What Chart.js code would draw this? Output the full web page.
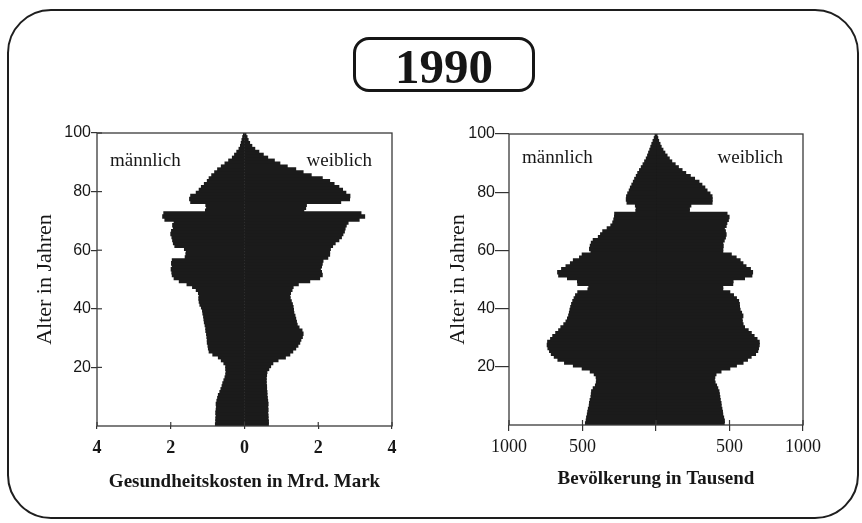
<!DOCTYPE html>
<html>
<head>
<meta charset="utf-8">
<script src="https://cdn.jsdelivr.net/npm/chart.js@4.4.1/dist/chart.umd.min.js"></script>
<style>
  html, body { margin: 0; padding: 0; background: #fff; }
  #page { position: relative; width: 862px; height: 523px; overflow: hidden; background: #fff; }
  #frame { position: absolute; left: 7px; top: 9px; width: 848px; height: 506px;
           border: 2px solid #1e1e1e; border-radius: 44px; }
  #year { position: absolute; left: 353px; top: 37px; width: 176px; height: 47px; padding-top: 2px;
          border: 3px solid #161616; border-radius: 16px; text-align: center;
          font: bold 49px/49px "Liberation Serif", "Times New Roman", serif; color: #161616; }
  canvas { position: absolute; left: 0; top: 0; }
</style>
</head>
<body>
<div id="page">
  <div id="frame"></div>
  <div id="year">1990</div>
  <canvas id="costs" width="862" height="523"></canvas>
  <canvas id="people" width="862" height="523"></canvas>
</div>
<script>
// Age classes (one bar per year of age)
const ages = Array.from({ length: 100 }, (_, i) => i);

// Health costs per age, in billion Mark (men drawn to the left)
const costMale = [
  0.78, 0.77, 0.77, 0.76, 0.77, 0.76, 0.75, 0.76, 0.74, 0.72,
  0.70, 0.66, 0.63, 0.60, 0.58, 0.55, 0.52, 0.50, 0.49, 0.50,
  0.50, 0.55, 0.62, 0.70, 0.85, 0.95, 0.97, 0.98, 1.00, 1.00,
  1.01, 1.02, 1.04, 1.04, 1.06, 1.08, 1.09, 1.10, 1.12, 1.13,
  1.16, 1.20, 1.22, 1.23, 1.22, 1.24, 1.30, 1.40, 1.55, 1.76,
  1.90, 1.95, 1.96, 1.98, 1.95, 1.97, 1.95, 1.60, 1.58, 1.57,
  1.62, 1.88, 1.92, 1.94, 1.96, 1.99, 1.97, 1.92, 1.94, 1.90,
  2.15, 2.21, 2.18, 1.05, 1.02, 1.04, 1.45, 1.48, 1.45, 1.30,
  1.22, 1.16, 1.08, 1.00, 0.95, 0.88, 0.80, 0.72, 0.62, 0.52,
  0.42, 0.32, 0.26, 0.20, 0.14, 0.10, 0.08, 0.06, 0.04, 0.02
];
const costFemale = [
  0.64, 0.64, 0.63, 0.63, 0.62, 0.63, 0.62, 0.63, 0.62, 0.61,
  0.60, 0.60, 0.59, 0.59, 0.58, 0.58, 0.58, 0.59, 0.60, 0.65,
  0.70, 0.76, 0.90, 1.10, 1.22, 1.30, 1.38, 1.44, 1.49, 1.52,
  1.56, 1.58, 1.55, 1.47, 1.42, 1.40, 1.38, 1.36, 1.33, 1.32,
  1.31, 1.29, 1.26, 1.23, 1.22, 1.24, 1.28, 1.31, 1.45, 1.76,
  2.03, 2.10, 2.08, 2.05, 2.08, 2.10, 2.12, 2.25, 2.30, 2.30,
  2.32, 2.38, 2.45, 2.55, 2.62, 2.66, 2.70, 2.72, 2.75, 2.80,
  3.10, 3.25, 3.15, 1.60, 1.65, 1.67, 2.60, 2.84, 2.85, 2.74,
  2.65, 2.55, 2.42, 2.30, 2.10, 1.80, 1.58, 1.38, 1.15, 0.95,
  0.80, 0.62, 0.50, 0.38, 0.27, 0.19, 0.13, 0.09, 0.06, 0.03
];

// Population per age, in thousands
const popMale = [
  478, 473, 470, 465, 462, 458, 452, 450, 446, 440,
  438, 436, 425, 410, 404, 402, 405, 418, 445, 500,
  560, 620, 665, 690, 710, 722, 733, 738, 735, 715,
  700, 680, 660, 645, 625, 610, 600, 592, 587, 583,
  578, 572, 564, 555, 545, 530, 461, 455, 530, 532,
  600, 660, 667, 640, 610, 580, 560, 518, 500, 440,
  450, 445, 438, 425, 390, 375, 360, 330, 305, 292,
  285, 280, 279, 135, 132, 138, 195, 200, 198, 190,
  180, 172, 162, 152, 143, 132, 122, 110, 98, 86,
  75, 64, 55, 48, 40, 33, 26, 18, 10, 4
];
const popFemale = [
  462, 463, 458, 452, 450, 446, 441, 440, 435, 432,
  429, 426, 418, 410, 400, 395, 398, 406, 440, 500,
  545, 590, 620, 645, 675, 690, 695, 700, 700, 685,
  665, 646, 625, 600, 590, 585, 583, 589, 580, 570,
  566, 565, 560, 545, 525, 500, 452, 452, 520, 522,
  600, 650, 655, 640, 610, 589, 570, 543, 510, 452,
  452, 455, 452, 462, 470, 475, 470, 463, 475, 480,
  490, 495, 481, 225, 225, 235, 379, 380, 379, 365,
  345, 330, 310, 290, 260, 231, 200, 175, 150, 128,
  105, 88, 73, 58, 45, 33, 25, 16, 10, 5
];

// Axis tick values
const ageTicks = [0, 20, 40, 60, 80, 100];
const costTicks = [-4, -2, 0, 2, 4];
const popTicks = [-1000, -500, 0, 500, 1000];

const sexLabels = ['männlich', 'weiblich'];

const INK = '#171717';
const BAR = '#1b1b1b';

function toBars(values, sign) {
  return values.map((v, i) => ({ x: sign * v, y: ages[i] + 0.5 }));
}

// Plot frame, inward tick stubs and the sex labels inside the plot
const framePlugin = {
  id: 'framePlugin',
  afterDraw(chart, args, o) {
    const { ctx, chartArea: a, scales } = chart;
    ctx.save();
    ctx.strokeStyle = '#3a3a3a';
    ctx.lineWidth = 1.3;
    ctx.strokeRect(a.left, a.top, a.right - a.left, a.bottom - a.top);
    ctx.lineWidth = 1.2;
    scales.x.ticks.forEach(t => {
      const p = scales.x.getPixelForValue(t.value);
      ctx.beginPath(); ctx.moveTo(p, a.bottom); ctx.lineTo(p, a.bottom - o.inX); ctx.stroke();
    });
    scales.y.ticks.forEach(t => {
      if (t.value === 0 || o.inY === 0) return;
      const p = scales.y.getPixelForValue(t.value);
      ctx.beginPath(); ctx.moveTo(a.left, p); ctx.lineTo(a.left + o.inY, p); ctx.stroke();
    });
    ctx.fillStyle = INK;
    ctx.font = '19px "Liberation Serif", "Times New Roman", serif';
    ctx.textBaseline = 'alphabetic';
    ctx.textAlign = 'left';
    ctx.fillText(sexLabels[0], a.left + o.lx, a.top + o.ly);
    ctx.textAlign = 'right';
    ctx.fillText(sexLabels[1], a.right - o.rx, a.top + o.ly);
    ctx.restore();
  }
};

function pyramid(canvasId, cfg) {
  return new Chart(document.getElementById(canvasId), {
    type: 'bar',
    data: {
      datasets: [
        { label: sexLabels[0], data: toBars(cfg.male, -1), backgroundColor: BAR, borderWidth: 0, inflateAmount: 0.8 },
        { label: sexLabels[1], data: toBars(cfg.female, 1), backgroundColor: BAR, borderWidth: 0, inflateAmount: 0.8 }
      ]
    },
    options: {
      indexAxis: 'y',
      responsive: false,
      animation: false,
      devicePixelRatio: 1,
      datasets: { bar: { barPercentage: 1, categoryPercentage: 1 } },
      layout: { padding: cfg.padding },
      plugins: {
        legend: { display: false },
        tooltip: { enabled: false },
        framePlugin: cfg.frame
      },
      scales: {
        x: {
          type: 'linear',
          stacked: true,
          min: cfg.ticks[0],
          max: cfg.ticks[cfg.ticks.length - 1],
          afterBuildTicks: s => { s.ticks = cfg.ticks.map(v => ({ value: v })); },
          border: { display: false },
          grid: { drawOnChartArea: false, drawTicks: true, tickLength: cfg.xTickLen, color: '#333', lineWidth: 1.2 },
          ticks: {
            padding: cfg.xTickPad,
            color: INK,
            font: { family: '"Liberation Serif", "Times New Roman", serif', size: 18, weight: cfg.xTickWeight },
            callback: v => (v === 0 && cfg.hideZero) ? '' : String(Math.abs(v))
          },
          title: {
            display: true,
            text: cfg.xTitle,
            color: INK,
            font: { family: '"Liberation Serif", "Times New Roman", serif', size: 19, weight: 'bold' },
            padding: { top: 0, bottom: cfg.xTitlePad }
          },
          afterFit: s => { s.height = cfg.xHeight; }
        },
        y: {
          type: 'linear',
          stacked: true,
          min: 0,
          max: 100,
          offset: false,
          afterBuildTicks: s => { s.ticks = ageTicks.map(v => ({ value: v })); },
          border: { display: false },
          grid: {
            offset: false,
            drawOnChartArea: false,
            drawTicks: true,
            tickLength: cfg.yTickLen,
            lineWidth: 1.2,
            color: c => (c.tick && c.tick.value === 0) ? 'rgba(0,0,0,0)' : '#333'
          },
          ticks: {
            padding: 0,
            color: INK,
            font: { family: '"Liberation Sans", Arial, sans-serif', size: 16 },
            callback: v => v === 0 ? '' : String(v)
          },
          title: {
            display: true,
            text: 'Alter in Jahren',
            color: INK,
            font: { family: '"Liberation Serif", "Times New Roman", serif', size: 22 },
            padding: { top: 2, bottom: 0 }
          },
          afterFit: s => { s.width = cfg.yWidth; }
        }
      }
    },
    plugins: [framePlugin]
  });
}

pyramid('costs', {
  male: costMale,
  female: costFemale,
  ticks: costTicks,
  hideZero: false,
  xTitle: 'Gesundheitskosten in Mrd. Mark',
  xTickWeight: 'bold',
  padding: { left: 30, right: 470, top: 133, bottom: 20 },
  yWidth: 67, xHeight: 77,
  xTickLen: 3, xTickPad: 9, xTitlePad: 10,
  yTickLen: 6,
  frame: { inX: 4, inY: 5, lx: 13, ly: 33, rx: 20 }
});

pyramid('people', {
  male: popMale,
  female: popFemale,
  ticks: popTicks,
  hideZero: true,
  xTitle: 'Bevölkerung in Tausend',
  xTickWeight: 'normal',
  padding: { left: 443, right: 59, top: 134, bottom: 20 },
  yWidth: 66, xHeight: 78,
  xTickLen: 6, xTickPad: 5, xTitlePad: 13,
  yTickLen: 14,
  frame: { inX: 5, inY: 0, lx: 13, ly: 29, rx: 20 }
});
</script>
</body>
</html>
